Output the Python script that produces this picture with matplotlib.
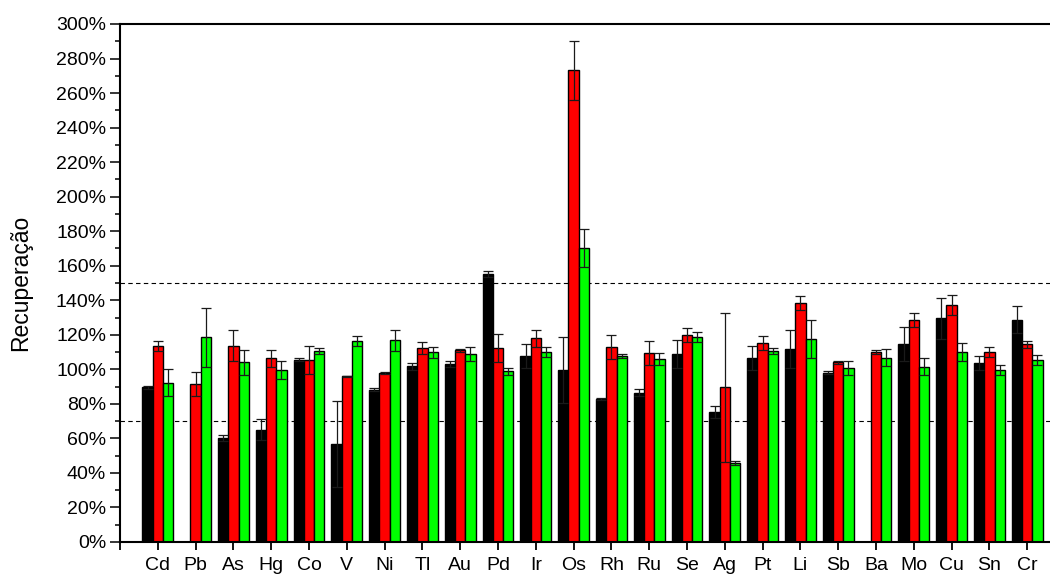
import matplotlib

matplotlib.use("Agg")
import matplotlib.pyplot as plt
import numpy as np
from matplotlib.ticker import FuncFormatter, MultipleLocator

plt.rcParams["font.family"] = ["Liberation Sans", "DejaVu Sans"]

# Recuperacao (%) per element, three series, with standard deviations
elementos = ["Cd", "Pb", "As", "Hg", "Co", "V", "Ni", "Tl", "Au", "Pd", "Ir", "Os",
             "Rh", "Ru", "Se", "Ag", "Pt", "Li", "Sb", "Ba", "Mo", "Cu", "Sn", "Cr"]

serie_preta = [89.6, np.nan, 60.2, 65.0, 105.6, 56.8, 88.2, 101.9, 103.1, 155.2, 107.5, 99.6,
               82.6, 86.5, 109.0, 75.3, 106.6, 111.8, 98.1, np.nan, 114.7, 129.5, 103.5, 128.8]
erro_preta = [1.0, np.nan, 1.7, 6.0, 0.7, 24.7, 0.8, 2.0, 2.0, 2.0, 7.0, 19.0,
              0.6, 2.0, 8.0, 3.7, 7.0, 11.0, 0.8, np.nan, 9.6, 12.0, 4.0, 8.0]

serie_vermelha = [113.5, 91.5, 113.7, 106.4, 105.4, 96.0, 98.0, 112.4, 111.0, 112.4, 118.0, 273.2,
                  113.1, 109.6, 119.9, 89.6, 115.2, 138.4, 104.0, 110.0, 128.6, 137.4, 110.0, 114.5]
erro_vermelha = [2.9, 7.0, 9.0, 5.0, 8.0, 0.3, 0.5, 3.3, 1.0, 8.0, 5.0, 17.0,
                 7.0, 7.0, 4.0, 43.0, 4.0, 4.0, 1.0, 1.0, 3.9, 5.8, 2.9, 2.0]

serie_verde = [92.3, 118.5, 104.0, 99.6, 110.4, 116.4, 116.8, 109.8, 108.7, 99.0, 110.2, 170.1,
               107.7, 106.0, 118.9, 45.8, 110.6, 117.8, 100.8, 106.8, 101.5, 110.0, 99.8, 105.4]
erro_verde = [8.0, 17.0, 7.0, 5.0, 1.7, 3.0, 6.0, 3.0, 4.0, 2.0, 3.0, 10.9,
              1.0, 3.3, 3.0, 1.0, 2.0, 11.0, 4.0, 4.8, 4.8, 5.0, 2.9, 3.0]

limites = [70, 150]

fig = plt.figure(figsize=(10.5, 5.76), dpi=100)
ax = fig.add_axes([120 / 1050, 34 / 576, 945 / 1050, 518 / 576])

x = np.arange(1, len(elementos) + 1)
largura = 0.27
series = [
    (serie_preta, erro_preta, "#000000", -largura),
    (serie_vermelha, erro_vermelha, "#ff0000", 0.0),
    (serie_verde, erro_verde, "#00ff00", largura),
]
for valores, erros, cor, desloc in series:
    ax.bar(x + desloc, valores, width=largura, color=cor, edgecolor="black",
           linewidth=1.0, zorder=2)
    ax.errorbar(x + desloc, valores, yerr=erros, fmt="none", ecolor="#1a1a1a",
                elinewidth=0.9, capsize=3.5, capthick=0.9, zorder=3)

for lim in limites:
    ax.axhline(lim, color="black", linestyle=(0, (4, 3)), linewidth=0.8, zorder=1)

ax.set_xlim(0, 25)
ax.set_ylim(0, 300)
ax.set_xticks(np.arange(0, 25))
ax.set_xticklabels([""] + elementos)
ax.yaxis.set_major_locator(MultipleLocator(20))
ax.yaxis.set_minor_locator(MultipleLocator(10))
ax.yaxis.set_major_formatter(FuncFormatter(lambda v, p: f"{v:.0f}%"))
ax.tick_params(axis="x", direction="out", length=6, width=1.3, labelsize=14, pad=5)
ax.tick_params(axis="y", which="major", direction="out", length=7, width=1.1, labelsize=14, pad=3)
ax.tick_params(axis="y", which="minor", direction="out", length=3.5, width=1.1)
for lado in ["left", "bottom", "top", "right"]:
    ax.spines[lado].set_linewidth(1.5)

ax.set_ylabel("Recuperação", fontsize=16.5, labelpad=17)

plt.savefig("out.png", dpi=100)
